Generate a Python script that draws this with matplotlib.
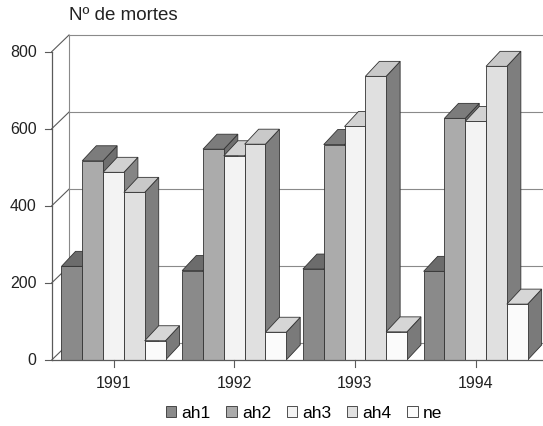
import matplotlib.pyplot as plt
from matplotlib.patches import Polygon, Patch
import numpy as np

plt.rcParams['font.family'] = ['Liberation Sans', 'DejaVu Sans']

years = ['1991', '1992', '1993', '1994']
series = ['ah1', 'ah2', 'ah3', 'ah4', 'ne']
ah1 = [243, 232, 236, 230]
ah2 = [517, 547, 559, 627]
ah3 = [487, 530, 606, 619]
ah4 = [435, 560, 736, 762]
ne = [50, 72, 73, 145]
yticks = [0, 200, 400, 600, 800]

# front / top / side shades for each series
front_c = ['#8a8a8a', '#ababab', '#f3f3f3', '#e0e0e0', '#fbfbfb']
top_c = ['#6c6c6c', '#7c7c7c', '#d2d2d2', '#c9c9c9', '#d6d6d6']
side_c = ['#5f5f5f', '#6f6f6f', '#858585', '#7e7e7e', '#7a7a7a']

fig = plt.figure(figsize=(5.43, 4.27), dpi=100)
ax = fig.add_axes([51.7 / 543, 66 / 427, (543 - 51.7) / 543, 308.3 / 427])
x0 = -0.512
xmax = 3.558
ax.set_xlim(x0, xmax)
ax.set_ylim(0, 800)
ax.axis('off')

ux = 1 / 120.7        # data units per pixel (x)
uy = 800 / 308.3      # data units per pixel (y)
wdx, wdy = 17.3 * ux, 16.7 * uy   # wall depth
bdx, bdy = 14 * ux, 15 * uy       # bar depth
line_c = '#5a5a5a'

# back wall, side wall and axis
for v in yticks:
    ax.plot([x0 + wdx, xmax], [v + wdy, v + wdy], color='#8a8a8a', lw=0.8, clip_on=False, zorder=1)
    ax.plot([x0, x0 + wdx], [v, v + wdy], color=line_c, lw=0.8, clip_on=False, zorder=1)
    ax.plot([x0 - 7 * ux, x0], [v, v], color=line_c, lw=0.8, clip_on=False, zorder=1)
    ax.text(x0 - 15 * ux, v, str(v), ha='right', va='center', fontsize=11.5, color='#222222')
ax.plot([x0 + wdx, x0 + wdx], [wdy, 800 + wdy], color='#8a8a8a', lw=0.8, clip_on=False, zorder=1)
ax.plot([x0, x0], [0, 800], color=line_c, lw=0.9, clip_on=False, zorder=1)
ax.plot([x0, xmax], [0, 0], color=line_c, lw=0.9, clip_on=False, zorder=50)

# bars
values = [ah1, ah2, ah3, ah4, ne]
bw = 20.8 * ux
x = np.arange(len(years))
z = 2
for i in range(len(years)):
    start = x[i] - bw * len(series) / 2
    for j, vals in enumerate(values):
        v = vals[i]
        bx = start + j * bw
        ax.add_patch(Polygon([(bx + bw, 0), (bx + bw + bdx, bdy), (bx + bw + bdx, v + bdy), (bx + bw, v)],
                             closed=True, fc=side_c[j], ec='#333333', lw=0.6, clip_on=False, zorder=z))
        ax.add_patch(Polygon([(bx, v), (bx + bw, v), (bx + bw + bdx, v + bdy), (bx + bdx, v + bdy)],
                             closed=True, fc=top_c[j], ec='#333333', lw=0.6, clip_on=False, zorder=z))
        ax.add_patch(Polygon([(bx, 0), (bx + bw, 0), (bx + bw, v), (bx, v)],
                             closed=True, fc=front_c[j], ec='#333333', lw=0.6, clip_on=False, zorder=z))
        z += 1

# x ticks and labels
for i, yr in enumerate(years):
    ax.plot([x[i], x[i]], [0, -7 * uy], color=line_c, lw=0.8, clip_on=False, zorder=50)
    ax.text(x[i], -23 * uy, yr, ha='center', va='center', fontsize=11.5, color='#222222')

fig.text(69 / 543, 1 - 15 / 427, 'Nº de mortes', ha='left', va='center', fontsize=13.5, color='#222222')

handles = [Patch(fc=front_c[j], ec='#333333', lw=0.6) for j in range(len(series))]
fig.legend(handles, series, loc='center', bbox_to_anchor=(304 / 543, 13 / 427), ncol=5, frameon=False,
           fontsize=12.5, handlelength=0.6, handleheight=0.55, handletextpad=0.3, columnspacing=0.9,
           borderaxespad=0)

fig.savefig('out.png', dpi=100, facecolor='white')
